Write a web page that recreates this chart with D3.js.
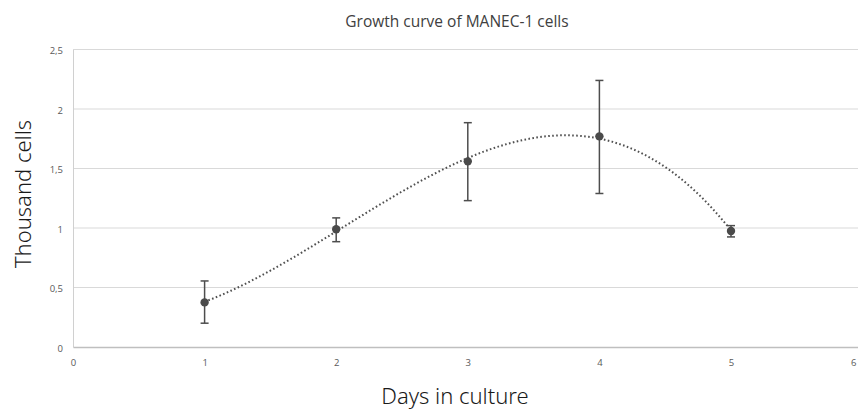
<!DOCTYPE html>
<html>
<head>
<meta charset="utf-8">
<script src="https://cdn.jsdelivr.net/npm/d3@7"></script>
<style>
  body { margin: 0; background: #fff; }
  svg { display: block; }
  .tick text { font-family: "Open Sans", "Liberation Sans", sans-serif; font-size: 9.5px; fill: #595959; }
</style>
</head>
<body>
<div id="chart"></div>
<script>
// data
const days = [1, 2, 3, 4, 5]
const cells = [0.375, 0.99, 1.56, 1.77, 0.975]
const errUp = [0.555, 1.085, 1.885, 2.24, 1.02]
const errDown = [0.2, 0.885, 1.23, 1.29, 0.925]
const xTicks = [0, 1, 2, 3, 4, 5, 6]
const yTicks = [0, 0.5, 1, 1.5, 2, 2.5]

const title = 'Growth curve of MANEC-1 cells'
const xTitle = 'Days in culture'
const yTitle = 'Thousand cells'

const width = 858
const height = 409
const margin = {top: 49.5, right: -4.6, bottom: 62, left: 73}
const graphWidth = width - margin.left - margin.right
const graphHeight = height - margin.top - margin.bottom

const x = d3.scaleLinear().domain([0, 6]).range([0, graphWidth])
const y = d3.scaleLinear().domain([0, 2.5]).range([graphHeight, 0])

const comma = d3.formatLocale({decimal: ',', thousands: '.', grouping: [3], currency: ['', '']})
const fmt = comma.format('')

// least squares polynomial trendline (like the spreadsheet one)
function polyfit(xs, ys, order) {
  const n = order + 1
  const A = []
  for (let i = 0; i < n; i++) {
    A.push(new Array(n + 1).fill(0))
    for (let j = 0; j < n; j++) {
      A[i][j] = d3.sum(xs, v => Math.pow(v, i + j))
    }
    A[i][n] = d3.sum(xs, (v, k) => ys[k] * Math.pow(v, i))
  }
  for (let c = 0; c < n; c++) {
    let p = c
    for (let r = c + 1; r < n; r++) if (Math.abs(A[r][c]) > Math.abs(A[p][c])) p = r
    ;[A[c], A[p]] = [A[p], A[c]]
    for (let r = 0; r < n; r++) {
      if (r === c) continue
      const f = A[r][c] / A[c][c]
      for (let k = c; k <= n; k++) A[r][k] -= f * A[c][k]
    }
  }
  return A.map((row, i) => row[n] / row[i])
}
const coef = polyfit(days, cells, 3)
const trend = t => coef.reduce((s, c, i) => s + c * Math.pow(t, i), 0)

const svg = d3.select('#chart')
  .append('svg')
  .attr('width', width)
  .attr('height', height)

svg.append('text')
  .attr('x', 457)
  .attr('y', 27)
  .attr('text-anchor', 'middle')
  .style('font-family', '"Open Sans", "Liberation Sans", sans-serif')
  .style('font-size', '15.5px')
  .style('fill', '#404040')
  .text(title)

const g = svg.append('g')
  .attr('transform', `translate(${margin.left}, ${margin.top})`)

// gridlines
g.append('g')
  .selectAll('line')
  .data(yTicks.filter(d => d > 0))
  .enter()
  .append('line')
  .attr('x1', 0)
  .attr('x2', graphWidth)
  .attr('y1', d => y(d))
  .attr('y2', d => y(d))
  .attr('stroke', '#d9d9d9')
  .attr('stroke-width', 1)

const yAxis = d3.axisLeft(y).tickValues(yTicks).tickFormat(fmt).tickSize(0).tickPadding(10)
g.append('g').attr('class', 'y axis').call(yAxis)
  .call(s => s.select('.domain').attr('stroke', '#d0d0d0'))
  .call(s => s.selectAll('.tick text').attr('dy', '0.45em'))

const xAxis = d3.axisBottom(x).tickValues(xTicks).tickFormat(fmt).tickSize(0).tickPadding(12)
g.append('g')
  .attr('class', 'x axis')
  .attr('transform', `translate(0, ${graphHeight})`)
  .call(xAxis)
  .call(s => s.select('.domain').attr('stroke', '#bfbfbf').attr('stroke-width', 1.5))
  // last label sits past the page edge, pull it back inside
  .call(s => s.selectAll('.tick text').filter(d => d === 6)
    .attr('text-anchor', 'end')
    .attr('x', d => (width - margin.left - 2) - x(d)))

// trendline
const samples = d3.range(days[0], days[days.length - 1] + 0.001, 0.02)
g.append('path')
  .datum(samples)
  .attr('fill', 'none')
  .attr('stroke', '#505050')
  .attr('stroke-width', 2)
  .attr('stroke-dasharray', '1.6,2.4')
  .attr('d', d3.line().x(d => x(d)).y(d => y(trend(d))))

// error bars
const bars = g.append('g')
  .selectAll('g')
  .data(days.map((d, i) => ({day: d, v: cells[i], hi: errUp[i], lo: errDown[i]})))
  .enter()
  .append('g')
  .attr('stroke', '#4d4d4d')
  .attr('stroke-width', 1.5)

bars.append('line')
  .attr('x1', d => x(d.day)).attr('x2', d => x(d.day))
  .attr('y1', d => y(d.hi)).attr('y2', d => y(d.lo))
bars.append('line')
  .attr('x1', d => x(d.day) - 4).attr('x2', d => x(d.day) + 4)
  .attr('y1', d => y(d.hi)).attr('y2', d => y(d.hi))
bars.append('line')
  .attr('x1', d => x(d.day) - 4).attr('x2', d => x(d.day) + 4)
  .attr('y1', d => y(d.lo)).attr('y2', d => y(d.lo))

g.append('g')
  .selectAll('.dot')
  .data(days)
  .enter()
  .append('circle')
  .attr('class', 'dot')
  .attr('cx', d => x(d))
  .attr('cy', (d, i) => y(cells[i]))
  .attr('r', 4.2)
  .attr('fill', '#4a4a4a')

// axis titles
svg.append('text')
  .attr('x', 455)
  .attr('y', 404)
  .attr('text-anchor', 'middle')
  .style('font-family', '"Noto Sans", Lato, sans-serif')
  .style('font-weight', 300)
  .style('font-size', '22px')
  .style('fill', '#1a1a1a')
  .text(xTitle)

svg.append('text')
  .attr('transform', 'translate(31, 194) rotate(-90)')
  .attr('text-anchor', 'middle')
  .style('font-family', '"Noto Sans", Lato, sans-serif')
  .style('font-weight', 300)
  .style('font-size', '22px')
  .style('fill', '#1a1a1a')
  .text(yTitle)
</script>
</body>
</html>
